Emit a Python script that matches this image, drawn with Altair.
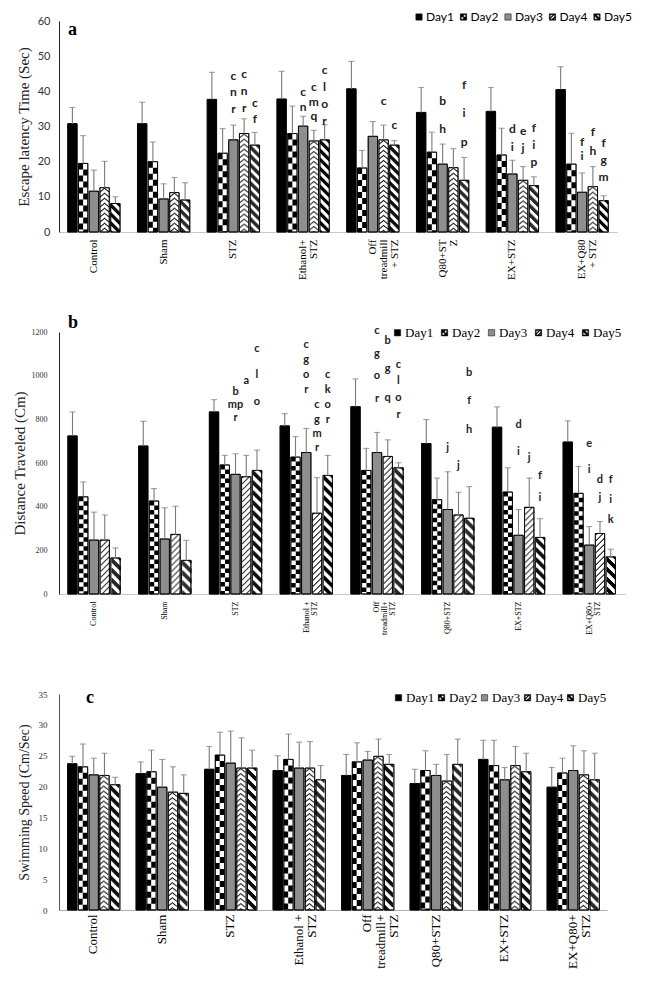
import altair as alt
import pandas as pd

days = ["Day1", "Day2", "Day3", "Day4", "Day5"]

# tick labels per panel ("|" marks a line break)
a_labels = ["Control", "Sham", "STZ", "Ethanol+|STZ", "Off|treadmill|+ STZ",
            "Q80+ST|Z", "EX+STZ", "EX+Q80|+ STZ"]
b_labels = ["Control", "Sham", "STZ", "Ethanol +|STZ", "Off|treadmill+|STZ",
            "Q80+STZ", "EX+STZ", "EX+Q80+|STZ"]
c_labels = ["Control", "Sham", "STZ", "Ethanol +|STZ", "Off|treadmill+|STZ",
            "Q80+STZ", "EX+STZ", "EX+Q80+|STZ"]

# ---- panel a: escape latency (s) ----
a_day1 = [30.8, 30.8, 37.7, 37.8, 40.7, 34.0, 34.3, 40.5]
a_day2 = [19.5, 20.0, 22.4, 28.0, 18.2, 22.7, 21.9, 19.3]
a_day3 = [11.6, 9.4, 26.2, 30.1, 27.2, 19.3, 16.5, 11.3]
a_day4 = [12.6, 11.2, 28.0, 25.9, 26.2, 18.3, 14.7, 12.9]
a_day5 = [8.1, 9.1, 24.7, 26.2, 24.7, 14.7, 13.2, 8.9]
a_sd1 = [4.6, 6.1, 7.7, 7.9, 7.8, 7.1, 6.8, 6.5]
a_sd2 = [7.9, 5.6, 7.0, 7.8, 5.0, 5.7, 7.6, 8.8]
a_sd3 = [6.0, 4.3, 4.2, 2.8, 4.2, 5.7, 3.9, 5.5]
a_sd4 = [7.5, 4.3, 4.2, 3.0, 4.2, 5.4, 3.9, 5.7]
a_sd5 = [1.9, 4.9, 3.6, 4.3, 1.3, 6.5, 2.5, 1.4]
# significance letters: (group index, day, letters, lowest, highest)
a_letters = [
    (2, "Day3", "c n r", 35.0, 44.4), (2, "Day4", "c n r", 35.3, 44.9),
    (2, "Day5", "c f", 32.1, 36.8),
    (3, "Day3", "c n", 35.5, 39.8), (3, "Day4", "c m q", 32.9, 41.2),
    (3, "Day5", "c l o r", 31.7, 46.2),
    (4, "Day4", "c", 37.2, 37.2), (4, "Day5", "c", 30.5, 30.5),
    (5, "Day3", "b h", 29.2, 37.3), (5, "Day5", "f i p", 25.5, 41.9),
    (6, "Day3", "d i", 24.1, 29.2), (6, "Day4", "e j", 23.8, 28.6),
    (6, "Day5", "f i p", 19.8, 29.5),
    (7, "Day3", "f i", 21.7, 25.7), (7, "Day4", "f h", 23.1, 28.3),
    (7, "Day5", "f g m", 15.7, 25.4),
]

# ---- panel b: distance traveled (cm) ----
b_day1 = [724, 678, 834, 770, 858, 689, 764, 696]
b_day2 = [445, 426, 591, 627, 566, 432, 467, 461]
b_day3 = [247, 252, 548, 648, 648, 387, 269, 224]
b_day4 = [247, 273, 537, 370, 630, 362, 397, 277]
b_day5 = [165, 154, 566, 543, 578, 347, 259, 170]
b_sd1 = [110, 113, 56, 56, 127, 110, 93, 97]
b_sd2 = [68, 57, 44, 94, 101, 99, 111, 123]
b_sd3 = [128, 143, 94, 110, 92, 173, 118, 85]
b_sd4 = [115, 129, 98, 163, 76, 104, 134, 55]
b_sd5 = [46, 92, 93, 92, 23, 145, 86, 35]
b_letters = [
    (2, "Day3", "b mp r", 807, 924), (2, "Day4", "a", 977, 977),
    (2, "Day5", "c l o", 880, 1123),
    (3, "Day3", "c g o r", 936, 1142), (3, "Day4", "c g m r", 667, 865),
    (3, "Day5", "c k o r", 799, 1005),
    (4, "Day3", "c g o r", 893, 1205), (4, "Day4", "b g q", 898, 1161),
    (4, "Day5", "c l o r", 822, 1050),
    (5, "Day3", "j", 670, 670), (5, "Day4", "j", 586, 586),
    (5, "Day5", "b f h", 753, 1012),
    (6, "Day3", "d i", 651, 776), (6, "Day4", "j", 624, 624),
    (6, "Day5", "f i", 441, 540),
    (7, "Day3", "e i", 566, 688), (7, "Day4", "d j", 441, 520),
    (7, "Day5", "f i k", 338, 520),
]

# ---- panel c: swimming speed (cm/s) ----
c_day1 = [23.7, 22.1, 22.8, 22.6, 21.8, 20.5, 24.4, 19.9]
c_day2 = [23.2, 22.4, 25.1, 24.4, 24.0, 22.6, 23.4, 22.2]
c_day3 = [21.9, 19.9, 23.8, 23.0, 24.3, 21.8, 21.1, 22.6]
c_day4 = [21.8, 19.1, 23.0, 23.0, 24.9, 20.9, 23.4, 21.9]
c_day5 = [20.3, 18.9, 23.0, 21.1, 23.6, 23.6, 22.4, 21.1]
c_sd1 = [1.2, 1.9, 3.7, 2.4, 3.4, 2.3, 3.1, 3.2]
c_sd2 = [3.7, 3.5, 3.7, 4.1, 3.1, 3.2, 4.1, 2.4]
c_sd3 = [2.7, 4.5, 5.2, 4.2, 1.4, 1.8, 2.0, 4.0]
c_sd4 = [3.6, 4.1, 4.9, 4.3, 2.8, 4.3, 3.1, 3.9]
c_sd5 = [1.2, 3.0, 2.9, 2.3, 1.6, 4.1, 3.0, 4.3]
c_letters = []

FILLS = {"Day1": "black", "Day2": "white", "Day3": "#8e8e8e", "Day4": "white", "Day5": "white"}

FRAME = "M-1,-1H1V1H-1Z M-0.72,-0.72V0.72H0.72V-0.72Z"
SHAPES = [
    "square",
    FRAME + " M-0.72,-0.72H0V0H-0.72Z M0,0H0.72V0.72H0Z",
    "square",
    FRAME + " M-0.72,0.2L0.2,-0.72L0.55,-0.72L-0.72,0.55Z M-0.15,0.72L0.72,-0.15L0.72,0.2L0.2,0.72Z",
    FRAME + " M-0.72,-0.72L-0.3,-0.72L0.72,0.3L0.72,0.72L0.3,0.72L-0.72,-0.3Z",
]
LEG_FILLS = ["black", "black", "#8e8e8e", "black", "black"]

X_PAD_IN, X_PAD_OUT = 0.25, 0.125
D_PAD_IN = 0.13


def checker(h):
    return [(-2.3, 4.5, [h, h], 0), (2.3, 4.5, [h, h], h)]


def stripes(period, slope=1.0):
    return [(j - 4, 1.15, [period / 2, period / 2], (-j * slope) % period) for j in range(9)]


def chevrons(period, ink, slope=1.0):
    return [(j - 4, 1.0, [ink, period - ink], (-abs(j - 4) * slope) % period) for j in range(9)]


def diag_thin(period, ink, slope=1.0):
    return [(j - 4, 1.0, [ink, period - ink], (j * slope) % period) for j in range(9)]


def panel(labels, means, sds, letters, cfg):
    rows = []
    for d, ml, sl in zip(days, means, sds):
        for lab, m, s in zip(labels, ml, sl):
            rows.append({"grp": lab, "day": d, "mean": m, "top": m + s,
                         "zero": 0, "fill": FILLS[d]})
    df = pd.DataFrame(rows)

    lrows = []
    for gi, d, txt, lo, hi in letters:
        parts = txt.split()
        n = len(parts)
        for i, p in enumerate(parts):
            yv = lo if n == 1 else hi - (hi - lo) * i / (n - 1)
            lrows.append({"grp": labels[gi], "day": d, "txt": p, "mean": yv})
    ldf = pd.DataFrame(lrows, columns=["grp", "day", "txt", "mean"])

    xscale = alt.Scale(paddingInner=X_PAD_IN, paddingOuter=X_PAD_OUT)
    xaxis = alt.Axis(labelAngle=270, labelAlign="right", labelBaseline="middle",
                     labelExpr="split(datum.label, '|')",
                     labelFont="Liberation Serif", labelFontSize=cfg["xfs"],
                     labelLineHeight=cfg["xlh"], labelColor="black",
                     labelPadding=cfg["xpad"], ticks=False,
                     domainColor=cfg["xdom"], labelLimit=0)

    def X(**kw):
        return alt.X("grp:N", sort=labels, title=None, scale=xscale, axis=xaxis, **kw)

    xo = alt.XOffset("day:N", sort=days,
                     scale=alt.Scale(domain=days, paddingInner=D_PAD_IN, paddingOuter=0))
    ymax, ystep = cfg["ymax"], cfg["ystep"]
    vals = [ystep * i for i in range(int(round(ymax / ystep)) + 1)]
    yscale = alt.Scale(domain=[0, ymax], nice=False, zero=True)
    yaxis = alt.Axis(values=vals, title=cfg["ytitle"], grid=False, ticks=False, format="d",
                     titleFont="Liberation Serif", titleFontSize=cfg["ytfs"],
                     titleFontWeight="normal", titleColor="#222",
                     titleX=cfg["titlex"],
                     labelFont=cfg["ylfont"], labelFontSize=cfg["ylfs"],
                     labelColor="#333", labelPadding=cfg["ylpad"],
                     domainColor=cfg["ydom"])

    def Y(field):
        return alt.Y(field, scale=yscale, axis=yaxis, title=cfg["ytitle"])

    # geometry of the grouped bands, to place pattern strokes inside each bar
    step_x = cfg["w"] / (len(labels) - X_PAD_IN + 2 * X_PAD_OUT)
    band_x = step_x * (1 - X_PAD_IN)
    sub = band_x / (len(days) - D_PAD_IN)
    barw = sub * (1 - D_PAD_IN)

    base = alt.Chart(df)
    layers = [base.mark_bar(stroke="black", strokeWidth=0.8).encode(
        x=X(), xOffset=xo, y=Y("mean:Q"), color=alt.Color("fill:N", scale=None))]

    for day, specs in [("Day2", cfg["p2"]), ("Day4", cfg["p4"]), ("Day5", cfg["p5"])]:
        di = days.index(day)
        for dx, w, dash, off in specs:
            bp = (di * sub + barw / 2 + dx) / band_x
            layers.append(base.transform_filter(alt.datum.day == day).mark_rule(
                strokeWidth=w, strokeDash=dash, strokeDashOffset=off,
                color="black").encode(x=X(bandPosition=bp), y=Y("mean:Q"), y2="zero:Q"))

    layers.append(base.mark_bar(stroke="black", strokeWidth=0.8, fillOpacity=0).encode(
        x=X(), xOffset=xo, y=Y("mean:Q")))
    layers.append(base.mark_rule(color="#7a7a7a", strokeWidth=1.1).encode(
        x=X(), xOffset=xo, y=Y("mean:Q"), y2="top:Q"))
    layers.append(base.mark_tick(orient="horizontal", color="#7a7a7a", thickness=1.1,
                                 size=6).encode(x=X(), xOffset=xo, y=Y("top:Q")))
    if len(ldf):
        layers.append(alt.Chart(ldf).mark_text(font="Lato", fontWeight="bold",
                                               fontSize=cfg["letfs"], color="#222").encode(
            x=X(), xOffset=xo, y=Y("mean:Q"), text="txt:N"))

    leg = dict(title=None, orient="none", direction="horizontal", columns=5,
               legendX=cfg["legx"], legendY=cfg["legy"],
               labelFont=cfg["legfont"], labelFontSize=cfg["legfs"], labelColor="black",
               symbolSize=cfg["legsym"], symbolStrokeColor="black",
               symbolStrokeWidth=0.5, symbolOpacity=1,
               columnPadding=cfg["legpad"], labelOffset=1)
    layers.append(base.mark_point(filled=True, size=0).encode(
        x=X(), xOffset=xo, y=Y("mean:Q"),
        color=alt.Color("day:N", scale=alt.Scale(domain=days, range=LEG_FILLS),
                        legend=alt.Legend(**leg)),
        shape=alt.Shape("day:N", scale=alt.Scale(domain=days, range=SHAPES),
                        legend=alt.Legend(**leg))))

    tag = pd.DataFrame({"t": [cfg["tag"]]})
    layers.append(alt.Chart(tag).mark_text(font="Liberation Serif", fontWeight="bold",
                                           fontSize=18, align="left", baseline="middle").encode(
        x=alt.value(cfg["tagx"]), y=alt.value(cfg["tagy"]), text="t:N"))

    return alt.layer(*layers).properties(width=cfg["w"], height=cfg["h"])


cfg_a = dict(ymax=60, ystep=10, ytitle="Escape latency Time (Sec)", ytfs=15,
             titlex=-28, ylfont="Lato", ylfs=11, ylpad=9, ydom="#222",
             xfs=11, xlh=11, xpad=7, xdom="#c8c8c8", letfs=12,
             p2=checker(6), p4=chevrons(5, 1.3, 0.8), p5=stripes(9),
             legx=354, legy=-10, legfont="Lato", legfs=12, legsym=40, legpad=3.5,
             tag="a", tagx=9, tagy=9, w=558, h=211)
cfg_b = dict(ymax=1200, ystep=200, ytitle="Distance Traveled (Cm)", ytfs=15,
             titlex=-32, ylfont="Liberation Serif", ylfs=8, ylpad=12, ydom="#222",
             xfs=8, xlh=8, xpad=7, xdom="#c8c8c8", letfs=11,
             p2=checker(4.5), p4=diag_thin(6, 1.3, 1.0), p5=stripes(10),
             legx=332, legy=-6, legfont="Liberation Serif", legfs=13, legsym=40, legpad=4,
             tag="b", tagx=9, tagy=-9, w=566, h=262)
cfg_c = dict(ymax=35, ystep=5, ytitle="Swimming Speed (Cm/Sec)", ytfs=14,
             titlex=-28, ylfont="Liberation Serif", ylfs=9, ylpad=12, ydom="#555",
             xfs=13, xlh=13.5, xpad=4, xdom="#b0b0b0", letfs=12,
             p2=checker(6), p4=chevrons(5, 1.3, 0.8), p5=stripes(10),
             legx=333, legy=-3, legfont="Liberation Serif", legfs=13, legsym=40, legpad=-1,
             tag="c", tagx=27, tagy=4, w=548, h=216)

pa = panel(a_labels, [a_day1, a_day2, a_day3, a_day4, a_day5],
           [a_sd1, a_sd2, a_sd3, a_sd4, a_sd5], a_letters, cfg_a)
pb = panel(b_labels, [b_day1, b_day2, b_day3, b_day4, b_day5],
           [b_sd1, b_sd2, b_sd3, b_sd4, b_sd5], b_letters, cfg_b)
pc = panel(c_labels, [c_day1, c_day2, c_day3, c_day4, c_day5],
           [c_sd1, c_sd2, c_sd3, c_sd4, c_sd5], c_letters, cfg_c)

chart = alt.vconcat(pa, pb, pc, spacing=100, bounds="flush").resolve_scale(
    color="independent", shape="independent", x="independent", y="independent"
).properties(
    padding={"left": 4, "top": 3, "right": 0, "bottom": 2},
    background="white"
).configure_view(stroke=None)

chart.save("out.html", embed_options={"renderer": "svg", "actions": False})
